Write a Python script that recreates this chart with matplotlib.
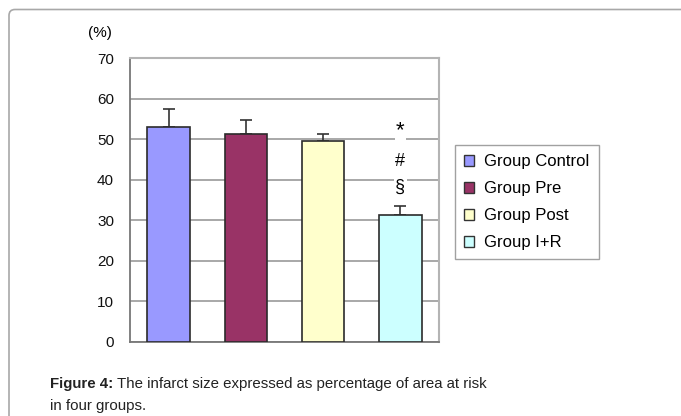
import matplotlib
matplotlib.use("Agg")
import matplotlib.pyplot as plt
import matplotlib.patches as mpatches
from matplotlib.transforms import IdentityTransform
import numpy as np

groups = ["Group Control", "Group Pre", "Group Post", "Group I+R"]
infarct = [53.0, 51.2, 49.5, 31.2]
err_up = [4.5, 3.6, 1.7, 2.3]
colors = ["#9999ff", "#993366", "#ffffcc", "#ccffff"]
marks = ["*", "#", "§"]
mark_y = [52.0, 44.5, 38.2]
mark_size = [16, 13, 13]

plt.rcParams["font.family"] = ["Liberation Sans", "DejaVu Sans"]

fig = plt.figure(figsize=(6.81, 4.16), dpi=100)
ax = fig.add_axes([130 / 681, 1 - 341.7 / 416, 309 / 681, (341.7 - 58) / 416])

x = np.arange(len(groups))
ax.bar(x, infarct, width=0.55, color=colors, edgecolor="#2b2b2b", linewidth=1.2, zorder=3)
ax.errorbar(x, infarct, yerr=[np.zeros(len(err_up)), err_up], fmt="none",
            ecolor="#333333", elinewidth=1.2, capsize=4.5, capthick=1.2, zorder=2)

for m, yv, fs in zip(marks, mark_y, mark_size):
    ax.text(x[-1], yv, m, ha="center", va="center", fontsize=fs, zorder=4,
            bbox=dict(facecolor="white", edgecolor="none", pad=1.0))

ax.set_xlim(-0.5, 3.5)
ax.set_ylim(0, 70)
ax.set_yticks(range(0, 71, 10))
ax.set_xticks([])
ax.yaxis.grid(True, color="#9a9a9a", linewidth=1.2, zorder=0)
ax.tick_params(axis="y", length=0, pad=11.5, labelsize=11, colors="#111111")
for side in ["top", "right"]:
    ax.spines[side].set_color("#b4b4b4")
    ax.spines[side].set_linewidth(1.5)
for side in ["left", "bottom"]:
    ax.spines[side].set_color("#777777")
    ax.spines[side].set_linewidth(1.3)

fig.text(100 / 681, 1 - 33 / 416, "(%)", ha="center", va="center", fontsize=11)

handles = [mpatches.Patch(facecolor=c, edgecolor="#333333", linewidth=1.0) for c in colors]
leg = fig.legend(handles, groups, loc="upper left",
                 bbox_to_anchor=(455 / 681, 1 - 145 / 416), fontsize=12,
                 frameon=True, fancybox=False, handlelength=0.6, handleheight=0.6,
                 handletextpad=0.6, labelspacing=0.72, borderpad=0.55, borderaxespad=0)
leg.get_frame().set_edgecolor("#8a8a8a")
leg.get_frame().set_linewidth(1.0)

# page frame around the figure panel
frame = mpatches.FancyBboxPatch((9, -30), 720, 416 - 9.5 + 30,
                                boxstyle="round,pad=0,rounding_size=6",
                                transform=IdentityTransform(), facecolor="none",
                                edgecolor="#a8a8a8", linewidth=1.2)
fig.patches.append(frame)

cap_size = 10.8
t_bold = fig.text(50 / 681, 1 - 384 / 416, "Figure 4:", fontsize=cap_size,
                  fontweight="bold", va="center", ha="left", color="#222222")
fig.canvas.draw()
bb = t_bold.get_window_extent()
fig.text((bb.x1 + 4) / 681, 1 - 384 / 416,
         "The infarct size expressed as percentage of area at risk",
         fontsize=cap_size, va="center", ha="left", color="#222222")
fig.text(50 / 681, 1 - 406 / 416, "in four groups.", fontsize=cap_size,
         va="center", ha="left", color="#222222")

fig.savefig("out.png", dpi=100)
